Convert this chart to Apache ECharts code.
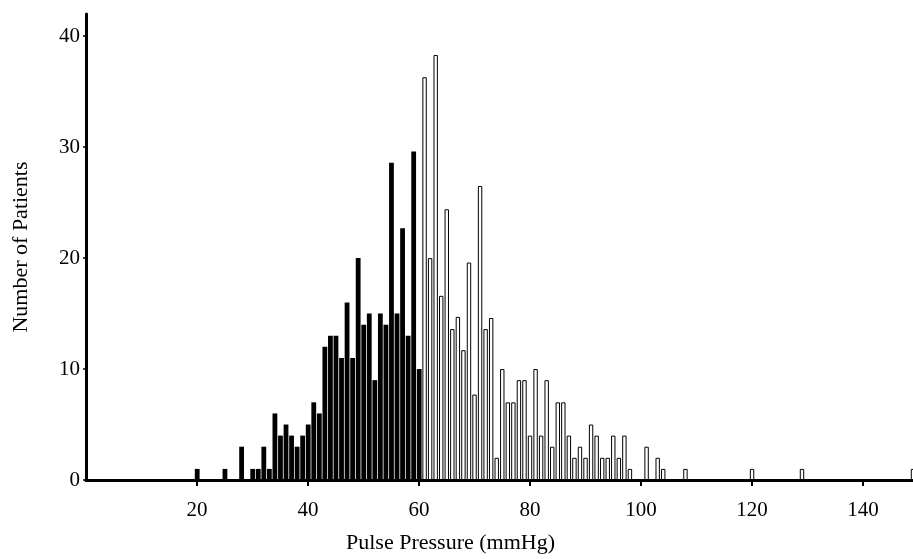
<!DOCTYPE html>
<html>
<head>
<meta charset="utf-8">
<title>Pulse Pressure</title>
<script src="https://cdn.jsdelivr.net/npm/echarts@6/dist/echarts.min.js"></script>
<style>
  html, body { margin: 0; padding: 0; background: #fff; }
  #chart { width: 913px; height: 559px; }
</style>
</head>
<body>
<div id="chart"></div>
<script>
// pulse pressure (mmHg) and number of patients
var pressureLow = [20, 25, 28, 30, 31, 32, 33, 34, 35, 36, 37, 38, 39, 40, 41, 42, 43, 44, 45, 46,
  47, 48, 49, 50, 51, 52, 53, 54, 55, 56, 57, 58, 59, 60];
var patientsLow = [1, 1, 3, 1, 1, 3, 1, 6, 4, 5, 4, 3, 4, 5, 7, 6, 12, 13, 13, 11,
  16, 11, 20, 14, 15, 9, 15, 14, 28.6, 15, 22.7, 13, 29.6, 10];

var pressureHigh = [61, 62, 63, 64, 65, 66, 67, 68, 69, 70, 71, 72, 73, 74, 75, 76, 77, 78, 79, 80,
  81, 82, 83, 84, 85, 86, 87, 88, 89, 90, 91, 92, 93, 94, 95, 96, 97, 98,
  101, 103, 104, 108, 120, 129, 149];
var patientsHigh = [36.3, 20, 38.3, 16.6, 24.4, 13.6, 14.7, 11.7, 19.6, 7.7, 26.5, 13.6, 14.6, 2, 10, 7, 7, 9, 9, 4,
  10, 4, 9, 3, 7, 7, 4, 2, 3, 2, 5, 4, 2, 2, 4, 2, 4, 1,
  3, 2, 1, 1, 1, 1, 1];

var xTicks = [20, 40, 60, 80, 100, 120, 140];

function pairs(xs, ys) {
  var out = [];
  for (var i = 0; i < xs.length; i++) {
    out.push([xs[i], ys[i]]);
  }
  return out;
}

var font = 'Liberation Serif';
var myChart = echarts.init(document.getElementById('chart'));

var option = {
  animation: false,
  backgroundColor: '#fff',
  grid: { left: 86, right: 0, top: 14, bottom: 72 },
  xAxis: {
    type: 'value',
    min: 0,
    max: 149,
    interval: 20,
    name: 'Pulse Pressure (mmHg)',
    nameLocation: 'middle',
    nameGap: 52,
    nameTextStyle: { fontFamily: font, fontSize: 22, color: '#000', padding: [0, 98, 0, 0] },
    axisLine: { lineStyle: { color: '#000', width: 3 } },
    axisTick: { length: 6, lineStyle: { color: '#000', width: 2 } },
    axisLabel: {
      fontFamily: font, fontSize: 21, color: '#000', margin: 20,
      showMinLabel: false, showMaxLabel: false,
      formatter: function (v) { return xTicks.indexOf(v) >= 0 ? v : ''; }
    },
    splitLine: { show: false }
  },
  yAxis: {
    type: 'value',
    min: 0,
    max: 42,
    interval: 10,
    name: 'Number of Patients',
    nameLocation: 'middle',
    nameGap: 54,
    nameTextStyle: { fontFamily: font, fontSize: 22, color: '#000' },
    axisLine: { lineStyle: { color: '#000', width: 3 } },
    axisTick: { length: 3, lineStyle: { color: '#000', width: 1.5 } },
    axisLabel: {
      fontFamily: font, fontSize: 21, color: '#000', margin: 6,
      showMaxLabel: false
    },
    splitLine: { show: false }
  },
  series: [
    {
      name: 'low',
      type: 'bar',
      barWidth: 4.8,
      barGap: '-100%',
      data: pairs(pressureLow, patientsLow),
      itemStyle: { color: '#000' }
    },
    {
      name: 'high',
      type: 'bar',
      barWidth: 4.4,
      barGap: '-100%',
      data: pairs(pressureHigh, patientsHigh),
      itemStyle: { color: '#fff', borderColor: '#000', borderWidth: 1 }
    }
  ]
};
myChart.setOption(option);
</script>
</body>
</html>
